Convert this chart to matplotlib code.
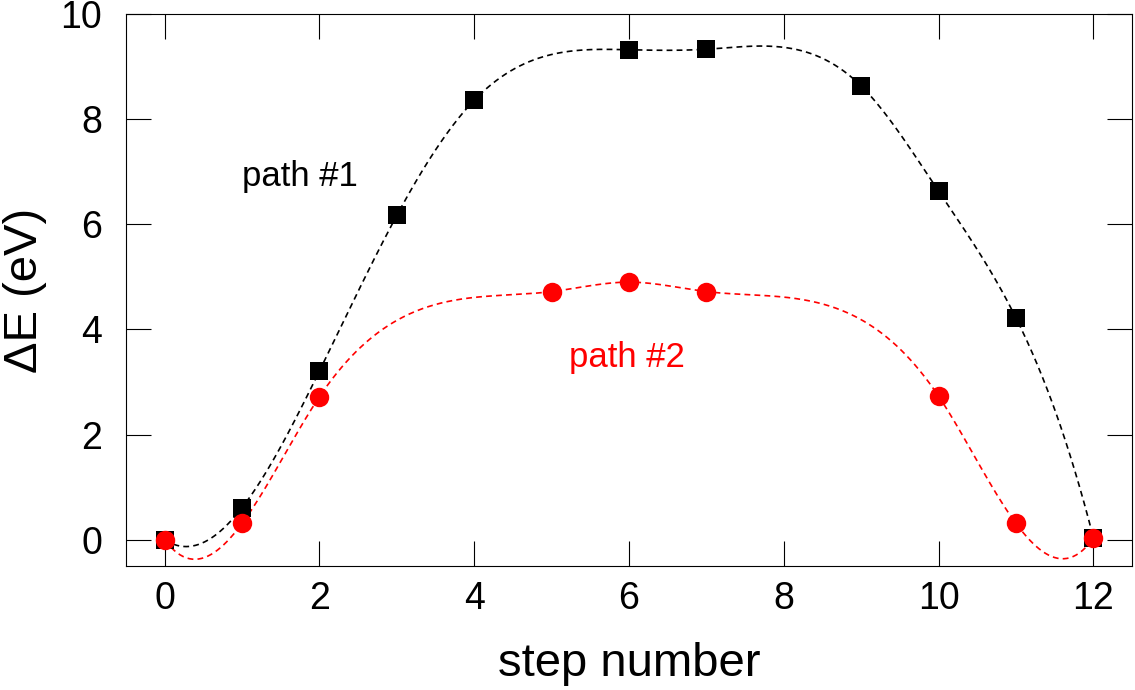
import numpy as np
import matplotlib
matplotlib.use('Agg')
from matplotlib import pyplot as plt

plt.rcParams['font.family'] = ['Liberation Sans', 'DejaVu Sans']

# path #1 (black squares)
step1 = [0, 1, 2, 3, 4, 6, 7, 9, 10, 11, 12]
e1 = [0.0, 0.61, 3.21, 6.17, 8.36, 9.32, 9.33, 8.63, 6.63, 4.22, 0.04]

# path #2 (red circles)
step2 = [0, 1, 2, 5, 6, 7, 10, 11, 12]
e2 = [0.0, 0.31, 2.72, 4.72, 4.90, 4.72, 2.73, 0.31, 0.03]

xticks = [0, 2, 4, 6, 8, 10, 12]
yticks = [0, 2, 4, 6, 8, 10]


def spline(x, y, xs):
    # cubic spline with not-a-knot ends
    x = np.asarray(x, float)
    y = np.asarray(y, float)
    n = len(x)
    h = np.diff(x)
    A = np.zeros((n, n))
    b = np.zeros(n)
    A[0, :3] = [h[1], -(h[0] + h[1]), h[0]]
    A[-1, -3:] = [h[-1], -(h[-2] + h[-1]), h[-2]]
    for i in range(1, n - 1):
        A[i, i - 1] = h[i - 1]
        A[i, i] = 2 * (h[i - 1] + h[i])
        A[i, i + 1] = h[i]
        b[i] = 6 * ((y[i + 1] - y[i]) / h[i] - (y[i] - y[i - 1]) / h[i - 1])
    M = np.linalg.solve(A, b)
    idx = np.clip(np.searchsorted(x, xs) - 1, 0, n - 2)
    x0, x1 = x[idx], x[idx + 1]
    hh = x1 - x0
    t0 = x1 - xs
    t1 = xs - x0
    return (M[idx] * t0**3 / (6 * hh) + M[idx + 1] * t1**3 / (6 * hh)
            + (y[idx] / hh - M[idx] * hh / 6) * t0
            + (y[idx + 1] / hh - M[idx + 1] * hh / 6) * t1)


fig = plt.figure(figsize=(11.35, 6.9), dpi=100)
ax = fig.add_axes([0.111, 0.1797, 0.8864, 0.8])

xs = np.linspace(0, 12, 600)
ax.plot(xs, spline(step1, e1, xs), color='black', lw=1.2, dashes=(3.5, 2.5))
ax.plot(xs, spline(step2, e2, xs), color='red', lw=1.2, dashes=(3.5, 2.5))
ax.plot(step1, e1, 's', color='black', ms=13.5, mew=0)
ax.plot(step2, e2, 'o', color='red', ms=14, mew=0)

ax.text(1.0, 6.72, 'path #1', fontsize=25, color='black')
ax.text(5.22, 3.29, 'path #2', fontsize=25, color='red')

ax.set_xlim(-0.5, 12.5)
ax.set_ylim(-0.5, 10)
ax.set_xticks(xticks)
ax.set_yticks(yticks)
ax.tick_params(direction='in', length=18, width=0.8, labelsize=27,
               top=True, right=True)
ax.tick_params(axis='x', pad=11)
ax.tick_params(axis='y', pad=17)
for s in ax.spines.values():
    s.set_linewidth(0.8)
ax.set_xlabel('step number', fontsize=34, labelpad=18)
ax.set_ylabel('ΔE (eV)', fontsize=34, labelpad=10)

fig.savefig('out.png', dpi=100)
